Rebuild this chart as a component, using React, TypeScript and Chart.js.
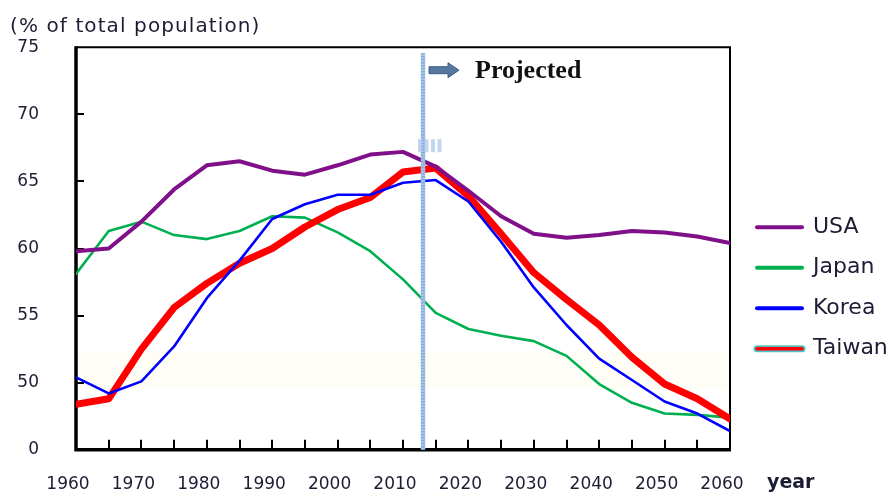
import React, { useEffect, useRef } from 'react';
import { Chart, registerables } from 'chart.js';

Chart.register(...registerables);

// ---------- data ----------
const years = [1960, 1965, 1970, 1975, 1980, 1985, 1990, 1995, 2000, 2005, 2010, 2015, 2020, 2025, 2030, 2035, 2040, 2045, 2050, 2055, 2060];
const usa = [59.8, 60.0, 62.0, 64.4, 66.2, 66.5, 65.8, 65.5, 66.2, 67.0, 67.2, 66.1, 64.3, 62.4, 61.1, 60.8, 61.0, 61.3, 61.2, 60.9, 60.4];
const japan = [58.1, 61.3, 62.0, 61.0, 60.7, 61.3, 62.4, 62.3, 61.2, 59.8, 57.7, 55.2, 54.0, 53.5, 53.1, 52.0, 49.9, 48.5, 47.7, 47.6, 47.4];
const korea = [50.4, 49.2, 50.1, 52.7, 56.3, 59.1, 62.2, 63.3, 64.0, 64.0, 64.9, 65.1, 63.5, 60.5, 57.1, 54.3, 51.8, 50.2, 48.6, 47.7, 46.4];
const taiwan = [48.4, 48.8, 52.5, 55.6, 57.4, 58.9, 60.0, 61.6, 62.9, 63.8, 65.7, 66.0, 63.9, 61.1, 58.2, 56.2, 54.3, 51.9, 49.9, 48.8, 47.3];

const seriesNames = ['USA', 'Japan', 'Korea', 'Taiwan'];
const xTickYears = [1960, 1970, 1980, 1990, 2000, 2010, 2020, 2030, 2040, 2050, 2060];
const xMinorYears = [1965, 1970, 1975, 1980, 1985, 1990, 1995, 2000, 2005, 2010, 2015, 2020, 2025, 2030, 2035, 2040, 2045, 2050, 2055];
const yTickValues = [45, 50, 55, 60, 65, 70, 75];
const yInnerTicks = [50, 55, 60, 65, 70];
const yBreakValue = 45;
const yBreakLabel = '0';
const projectionYear = 2013;
const bandFrom = 52.3;
const bandTo = 49.5;

const titleText = '(% of total population)';
const xAxisText = 'year';
const projectedText = 'Projected';

// ---------- styles ----------
const textColor = '#1C1C34';
const seriesColors = ['#80108A', '#00B050', '#0000FF', '#FF0000'];
const seriesWidths = [4, 2.6, 2.6, 7];
const seriesOrder = [0, 3, 1, 2];

const framePlugin = {
  id: 'frame',
  beforeDatasetsDraw(chart: any) {
    const { ctx, chartArea: a, scales } = chart;
    const xs = scales.x;
    const ys = scales.y;
    ctx.save();
    // faint band
    const b1 = ys.getPixelForValue(bandFrom);
    const b2 = ys.getPixelForValue(bandTo);
    ctx.fillStyle = '#FEFEF7';
    ctx.fillRect(a.left, b1, a.right - a.left, b2 - b1);
    // frame
    ctx.strokeStyle = '#000';
    ctx.lineWidth = 2;
    ctx.beginPath();
    ctx.moveTo(a.left, a.top);
    ctx.lineTo(a.right, a.top);
    ctx.lineTo(a.right, a.bottom);
    ctx.stroke();
    ctx.lineWidth = 3.5;
    ctx.beginPath();
    ctx.moveTo(a.left, a.top - 1);
    ctx.lineTo(a.left, a.bottom);
    ctx.lineTo(a.right + 1, a.bottom);
    ctx.stroke();
    // inner tick marks
    ctx.lineWidth = 2;
    xMinorYears.forEach((yr) => {
      const px = Math.round(xs.getPixelForValue(yr));
      ctx.beginPath();
      ctx.moveTo(px, a.bottom);
      ctx.lineTo(px, a.bottom - 10);
      ctx.stroke();
    });
    yInnerTicks.forEach((v) => {
      const py = Math.round(ys.getPixelForValue(v));
      ctx.beginPath();
      ctx.moveTo(a.left, py);
      ctx.lineTo(a.left + 8, py);
      ctx.stroke();
    });
    ctx.restore();
  },
};

const overlayPlugin = {
  id: 'overlay',
  afterDatasetsDraw(chart: any) {
    const { ctx, chartArea: a, scales } = chart;
    const xs = scales.x;
    const lx = Math.round(xs.getPixelForValue(projectionYear));
    ctx.save();
    // projection line
    ctx.strokeStyle = '#A9C6EA';
    ctx.lineWidth = 4.5;
    ctx.beginPath();
    ctx.moveTo(lx, a.top + 6);
    ctx.lineTo(lx, a.bottom);
    ctx.stroke();
    ctx.strokeStyle = '#7AA2D6';
    ctx.lineWidth = 4;
    ctx.setLineDash([1, 2]);
    ctx.beginPath();
    ctx.moveTo(lx, a.top + 6);
    ctx.lineTo(lx, a.bottom);
    ctx.stroke();
    ctx.setLineDash([]);
    // small marker bars
    ctx.fillStyle = 'rgba(180,203,236,0.8)';
    for (let i = 0; i < 4; i++) {
      ctx.fillRect(lx - 5 + i * 6.5, a.top + 92, 4, 13);
    }
    // arrow
    const ay = a.top + 23;
    ctx.fillStyle = '#56779F';
    ctx.strokeStyle = '#3E5E88';
    ctx.lineWidth = 1;
    ctx.beginPath();
    ctx.moveTo(lx + 6, ay - 3.5);
    ctx.lineTo(lx + 25, ay - 3.5);
    ctx.lineTo(lx + 25, ay - 7.5);
    ctx.lineTo(lx + 36, ay);
    ctx.lineTo(lx + 25, ay + 7.5);
    ctx.lineTo(lx + 25, ay + 3.5);
    ctx.lineTo(lx + 6, ay + 3.5);
    ctx.closePath();
    ctx.fill();
    ctx.stroke();
    // Projected text
    ctx.fillStyle = '#111111';
    ctx.font = 'bold 26px "Liberation Serif"';
    ctx.textAlign = 'left';
    ctx.textBaseline = 'alphabetic';
    ctx.fillText(projectedText, lx + 52, a.top + 31);
    // title
    ctx.fillStyle = textColor;
    ctx.font = '20px "DejaVu Sans"';
    (ctx as any).letterSpacing = '1.1px';
    ctx.fillText(titleText, 10, 32);
    (ctx as any).letterSpacing = '0px';
    // x axis name
    ctx.font = 'bold 19px "DejaVu Sans"';
    ctx.fillText(xAxisText, a.right + 37, a.bottom + 38);
    // legend
    const lx0 = a.right + 27;
    const lx1 = a.right + 72;
    const tx = a.right + 83;
    ctx.font = '22px "DejaVu Sans"';
    ctx.textBaseline = 'middle';
    seriesNames.forEach((name, i) => {
      const y = a.top + 180 + i * 40.5;
      ctx.lineCap = 'round';
      if (name === 'Taiwan') {
        ctx.strokeStyle = '#55C0C0';
        ctx.lineWidth = 7;
        ctx.beginPath();
        ctx.moveTo(lx0, y);
        ctx.lineTo(lx1, y);
        ctx.stroke();
        ctx.strokeStyle = seriesColors[i];
        ctx.lineWidth = 3.5;
        ctx.beginPath();
        ctx.moveTo(lx0, y);
        ctx.lineTo(lx1, y);
        ctx.stroke();
      } else {
        ctx.strokeStyle = seriesColors[i];
        ctx.lineWidth = 4;
        ctx.beginPath();
        ctx.moveTo(lx0, y);
        ctx.lineTo(lx1, y);
        ctx.stroke();
      }
      ctx.fillStyle = textColor;
      ctx.fillText(name, tx, y);
    });
    ctx.restore();
  },
};

export default function App() {
  const ref = useRef<HTMLCanvasElement>(null);
  useEffect(() => {
    const seriesValues = [usa, japan, korea, taiwan];
    const chart = new Chart(ref.current as HTMLCanvasElement, {
      type: 'line',
      data: {
        datasets: seriesNames.map((name, i) => ({
          label: name,
          data: years.map((yr, j) => ({ x: yr, y: seriesValues[i][j] })),
          borderColor: seriesColors[i],
          backgroundColor: seriesColors[i],
          borderWidth: seriesWidths[i],
          pointRadius: 0,
          tension: 0,
          fill: false,
          order: seriesOrder[i],
          borderJoinStyle: 'round' as const,
          borderCapStyle: 'round' as const,
        })),
      },
      options: {
        responsive: false,
        animation: false,
        layout: { padding: { top: 46, right: 159, left: 0, bottom: 0 } },
        plugins: {
          legend: { display: false },
          tooltip: { enabled: false },
          title: { display: false },
        },
        scales: {
          x: {
            type: 'linear',
            min: 1960,
            max: 2060,
            grid: { display: false, drawTicks: false },
            border: { display: false },
            afterBuildTicks: (s: any) => {
              s.ticks = xTickYears.map((v) => ({ value: v }));
            },
            afterFit: (s: any) => {
              s.height = 43;
            },
            ticks: {
              padding: 25,
              labelOffset: -8,
              maxRotation: 0,
              autoSkip: false,
              color: textColor,
              font: { family: 'DejaVu Sans', size: 17 },
              callback: (v: any) => String(v),
            },
          },
          y: {
            type: 'linear',
            min: 45,
            max: 75,
            grid: { display: false, drawTicks: false },
            border: { display: false },
            afterBuildTicks: (s: any) => {
              s.ticks = yTickValues.map((v) => ({ value: v }));
            },
            afterFit: (s: any) => {
              s.width = 76;
            },
            ticks: {
              padding: 37,
              color: textColor,
              font: { family: 'DejaVu Sans', size: 17 },
              callback: (v: any) => (v === yBreakValue ? yBreakLabel : String(v)),
            },
          },
        },
      },
      plugins: [framePlugin, overlayPlugin],
    });
    return () => chart.destroy();
  }, []);
  return (
    <div style={{ position: 'absolute', left: 0, top: 0, width: 889, height: 497, background: '#fff' }}>
      <canvas ref={ref} width={889} height={497} style={{ display: 'block' }} />
    </div>
  );
}
